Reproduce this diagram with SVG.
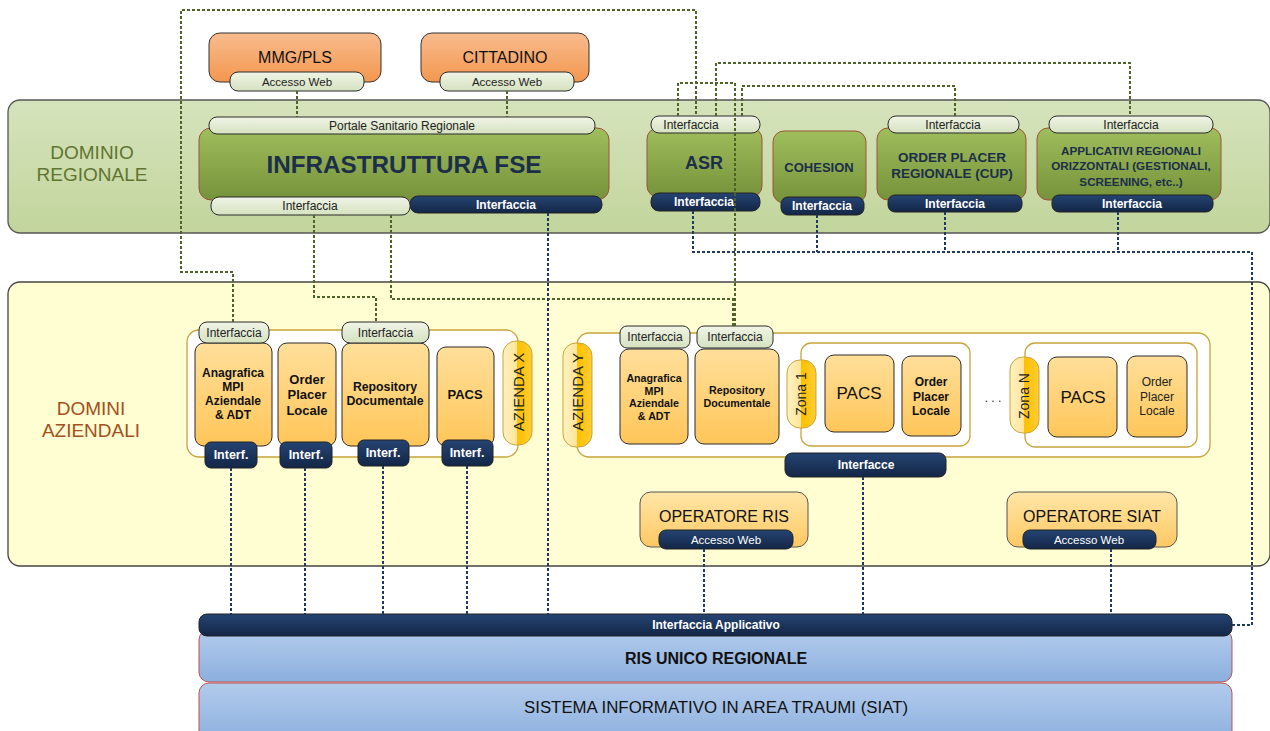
<svg xmlns="http://www.w3.org/2000/svg" width="1270" height="731" viewBox="0 0 1270 731">
<defs>
<linearGradient id="gReg" x1="0" y1="0" x2="0" y2="1"><stop offset="0" stop-color="#d6e3bc"/><stop offset="1" stop-color="#c2d59c"/></linearGradient>
<linearGradient id="gGreen" x1="0" y1="0" x2="0" y2="1"><stop offset="0" stop-color="#9fbe5c"/><stop offset="1" stop-color="#76923b"/></linearGradient>
<linearGradient id="gLight" x1="0" y1="0" x2="0" y2="1"><stop offset="0" stop-color="#f0f4e6"/><stop offset="1" stop-color="#d5e2c0"/></linearGradient>
<linearGradient id="gDark" x1="0" y1="0" x2="0" y2="1"><stop offset="0" stop-color="#254473"/><stop offset="1" stop-color="#132646"/></linearGradient>
<linearGradient id="gOrange" x1="0" y1="0" x2="0" y2="1"><stop offset="0" stop-color="#f9bc8e"/><stop offset="1" stop-color="#f3974f"/></linearGradient>
<linearGradient id="gYel" x1="0" y1="0" x2="0" y2="1"><stop offset="0" stop-color="#ffdf9a"/><stop offset="1" stop-color="#ffc659"/></linearGradient>
<linearGradient id="gOp" x1="0" y1="0" x2="0" y2="1"><stop offset="0" stop-color="#ffe6a8"/><stop offset="1" stop-color="#ffc862"/></linearGradient>
<linearGradient id="gBlue" x1="0" y1="0" x2="0" y2="1"><stop offset="0" stop-color="#b2cbec"/><stop offset="1" stop-color="#8cafde"/></linearGradient>
<linearGradient id="gAz" x1="0" y1="0" x2="1" y2="0"><stop offset="0" stop-color="#fff2c0"/><stop offset="0.5" stop-color="#ffe49a"/><stop offset="0.5" stop-color="#ffc000"/><stop offset="1" stop-color="#ffcc33"/></linearGradient>
<style>
text{font-family:"Liberation Sans",Arial,sans-serif;text-anchor:middle;dominant-baseline:central}
.light{fill:url(#gLight);stroke:#2b2b2b;stroke-width:1}
.dark{fill:url(#gDark);stroke:#222;stroke-width:1}
.green{fill:url(#gGreen);stroke:#a0503a;stroke-width:1}
.yel{fill:url(#gYel);stroke:#2b2b2b;stroke-width:1}
.az{fill:url(#gAz);stroke:#c9a43c;stroke-width:1}
.cont{fill:#ffffff;stroke:#c9a43c;stroke-width:1.3}
.t11{font-size:12px;fill:#222}
.tw{font-size:12px;fill:#fff;font-weight:bold}
.tw2{font-size:11.5px;fill:#fff}
.tg{font-weight:bold;fill:#1c2e4a}
.tb{font-weight:bold;fill:#111}
.gl{fill:none;stroke:#4f6228;stroke-width:2;stroke-dasharray:3 2}
.bl{fill:none;stroke:#1f3864;stroke-width:2;stroke-dasharray:3 2}
</style>
</defs>

<rect width="1270" height="731" fill="#ffffff"/>

<g id="dominio-regionale">
<rect x="8" y="100" width="1262" height="133" rx="12" fill="url(#gReg)" stroke="#555" stroke-width="1.3"/>
<text x="92" y="152" font-size="19" fill="#5f7530">DOMINIO</text>
<text x="92" y="174" font-size="19" fill="#5f7530">REGIONALE</text>
</g>

<g id="domini-aziendali">
<rect x="8" y="282" width="1262" height="284" rx="12" fill="#fffdd2" stroke="#444" stroke-width="1.3"/>
<text x="91" y="408" font-size="19" fill="#a5501c">DOMINI</text>
<text x="91" y="430" font-size="19" fill="#a5501c">AZIENDALI</text>
</g>

<g id="mmg-pls">
<rect x="209" y="33" width="172" height="49" rx="11" fill="url(#gOrange)" stroke="#333"/>
<text x="295" y="57" font-size="16" fill="#111">MMG/PLS</text>
<rect x="230" y="72" width="134" height="19" rx="8" class="light"/>
<text x="297" y="82" font-size="11.5" fill="#222">Accesso Web</text>
</g>

<g id="cittadino">
<rect x="421" y="33" width="168" height="49" rx="11" fill="url(#gOrange)" stroke="#333"/>
<text x="505" y="57" font-size="16" fill="#111">CITTADINO</text>
<rect x="440" y="72" width="134" height="19" rx="8" class="light"/>
<text x="507" y="82" font-size="11.5" fill="#222">Accesso Web</text>
</g>

<g id="infrastruttura-fse">
<rect x="199" y="128" width="410" height="72" rx="12" class="green"/>
<rect x="209" y="117" width="386" height="17" rx="8" class="light"/>
<text x="402" y="125.5" class="t11">Portale Sanitario Regionale</text>
<text x="404" y="164" font-size="24" class="tg" textLength="275" lengthAdjust="spacingAndGlyphs">INFRASTRUTTURA FSE</text>
<rect x="410" y="196" width="192" height="17" rx="8" class="dark"/>
<text x="506" y="204.5" class="tw">Interfaccia</text>
<rect x="211" y="197" width="199" height="18" rx="8" class="light"/>
<text x="310" y="206" class="t11">Interfaccia</text>
</g>

<g id="asr">
<rect x="647" y="128" width="115" height="69" rx="11" class="green"/>
<rect x="651" y="116" width="109" height="17" rx="8" class="light"/>
<text x="691" y="124.5" class="t11">Interfaccia</text>
<text x="704" y="163" font-size="18" class="tg">ASR</text>
<rect x="651" y="193" width="109" height="18" rx="8" class="dark"/>
<text x="704" y="202" class="tw">Interfaccia</text>
</g>

<g id="cohesion">
<rect x="773" y="131" width="93" height="72" rx="11" class="green"/>
<text x="819" y="167" font-size="13" class="tg">COHESION</text>
<rect x="781" y="197" width="83" height="18" rx="7" class="dark"/>
<text x="822" y="206" class="tw">Interfaccia</text>
</g>

<g id="order-placer-regionale">
<rect x="877" y="128" width="149" height="72" rx="11" class="green"/>
<rect x="888" y="116" width="131" height="17" rx="8" class="light"/>
<text x="953" y="124.5" class="t11">Interfaccia</text>
<text x="952" y="157" font-size="13.5" class="tg">ORDER PLACER</text>
<text x="952" y="173" font-size="13.5" class="tg">REGIONALE (CUP)</text>
<rect x="888" y="195" width="134" height="17" rx="7" class="dark"/>
<text x="955" y="203.5" class="tw">Interfaccia</text>
</g>

<g id="applicativi-regionali">
<rect x="1037" y="128" width="184" height="72" rx="11" class="green"/>
<rect x="1049" y="116" width="164" height="17" rx="8" class="light"/>
<text x="1131" y="124.5" class="t11">Interfaccia</text>
<text x="1131" y="150" font-size="11.7" class="tg">APPLICATIVI REGIONALI</text>
<text x="1131" y="165.5" font-size="11.7" class="tg">ORIZZONTALI (GESTIONALI,</text>
<text x="1131" y="181" font-size="11.7" class="tg">SCREENING, etc..)</text>
<rect x="1052" y="195" width="161" height="17" rx="7" class="dark"/>
<text x="1132" y="203.5" class="tw">Interfaccia</text>
</g>

<g id="azienda-x">
<rect x="187" y="330" width="331" height="127" rx="12" class="cont"/>
<rect x="503" y="341" width="29" height="104" rx="13" class="az"/>
<text x="518" y="392" font-size="15" fill="#222" transform="rotate(-90 518 392)">AZIENDA X</text>
</g>

<g id="anagrafica-x">
<rect x="195" y="343" width="77" height="103" rx="9" class="yel"/>
<rect x="199" y="322" width="70" height="21" rx="8" class="light"/>
<text x="234" y="332.5" class="t11">Interfaccia</text>
<text x="233" y="373" font-size="12" class="tb">Anagrafica</text>
<text x="233" y="387" font-size="12" class="tb">MPI</text>
<text x="233" y="401" font-size="12" class="tb">Aziendale</text>
<text x="233" y="415" font-size="12" class="tb">&amp; ADT</text>
<rect x="205" y="442" width="52" height="26" rx="6" class="dark"/>
<text x="231" y="455" font-size="12.5" fill="#fff" font-weight="bold">Interf.</text>
</g>

<g id="order-placer-x">
<rect x="278" y="343" width="58" height="103" rx="9" class="yel"/>
<text x="307" y="379" font-size="13" class="tb">Order</text>
<text x="307" y="394" font-size="13" class="tb">Placer</text>
<text x="307" y="410" font-size="13" class="tb">Locale</text>
<rect x="280" y="442" width="52" height="26" rx="6" class="dark"/>
<text x="306" y="455" font-size="12.5" fill="#fff" font-weight="bold">Interf.</text>
</g>

<g id="repository-x">
<rect x="342" y="343" width="87" height="103" rx="9" class="yel"/>
<rect x="342" y="322" width="87" height="21" rx="8" class="light"/>
<text x="385.5" y="332.5" class="t11">Interfaccia</text>
<text x="385" y="387" font-size="12.3" class="tb">Repository</text>
<text x="385" y="401" font-size="12.3" class="tb">Documentale</text>
<rect x="358" y="440" width="51" height="26" rx="6" class="dark"/>
<text x="383" y="453" font-size="12.5" fill="#fff" font-weight="bold">Interf.</text>
</g>

<g id="pacs-x">
<rect x="437" y="347" width="57" height="99" rx="9" class="yel"/>
<text x="465" y="394" font-size="13" class="tb">PACS</text>
<rect x="442" y="440" width="51" height="26" rx="6" class="dark"/>
<text x="467" y="453" font-size="12.5" fill="#fff" font-weight="bold">Interf.</text>
</g>

<g id="azienda-y">
<rect x="577" y="333" width="633" height="124" rx="12" class="cont"/>
<rect x="563" y="343" width="29" height="104" rx="13" class="az"/>
<text x="577" y="392" font-size="15" fill="#222" transform="rotate(-90 577 392)">AZIENDA Y</text>
<rect x="785" y="453" width="161" height="24" rx="7" class="dark"/>
<text x="866" y="465" class="tw">Interfacce</text>
</g>

<g id="anagrafica-y">
<rect x="620" y="349" width="68" height="95" rx="9" class="yel"/>
<rect x="620" y="326" width="70" height="22" rx="7" class="light"/>
<text x="655" y="337" class="t11">Interfaccia</text>
<text x="654" y="378" font-size="10.7" class="tb">Anagrafica</text>
<text x="654" y="390.5" font-size="10.7" class="tb">MPI</text>
<text x="654" y="403" font-size="10.7" class="tb">Aziendale</text>
<text x="654" y="415.5" font-size="10.7" class="tb">&amp; ADT</text>
</g>

<g id="repository-y">
<rect x="695" y="349" width="84" height="95" rx="9" class="yel"/>
<rect x="697" y="326" width="76" height="22" rx="7" class="light"/>
<text x="735" y="337" class="t11">Interfaccia</text>
<text x="737" y="390" font-size="10.7" class="tb">Repository</text>
<text x="737" y="403" font-size="10.7" class="tb">Documentale</text>
</g>

<g id="zona-1">
<rect x="801" y="343" width="169" height="103" rx="10" class="cont"/>
<rect x="787" y="360" width="29" height="68" rx="13" class="az"/>
<text x="801" y="394" font-size="14" fill="#222" transform="rotate(-90 801 394)">Zona 1</text>
<rect x="825" y="355" width="69" height="77" rx="9" class="yel"/>
<text x="859" y="393" font-size="17" fill="#111">PACS</text>
<rect x="902" y="356" width="59" height="80" rx="9" class="yel"/>
<text x="931" y="382" font-size="12" class="tb">Order</text>
<text x="931" y="397" font-size="12" class="tb">Placer</text>
<text x="931" y="411" font-size="12" class="tb">Locale</text>
</g>

<text x="993" y="398" font-size="12" fill="#222">. . .</text>

<g id="zona-n">
<rect x="1025" y="343" width="172" height="104" rx="10" class="cont"/>
<rect x="1010" y="357" width="29" height="76" rx="13" class="az"/>
<text x="1024" y="396" font-size="14" fill="#222" transform="rotate(-90 1024 396)">Zona N</text>
<rect x="1048" y="357" width="69" height="80" rx="9" class="yel"/>
<text x="1083" y="397" font-size="17" fill="#111">PACS</text>
<rect x="1127" y="356" width="60" height="81" rx="9" class="yel"/>
<text x="1157" y="382" font-size="12" fill="#222">Order</text>
<text x="1157" y="397" font-size="12" fill="#222">Placer</text>
<text x="1157" y="411" font-size="12" fill="#222">Locale</text>
</g>

<g id="operatore-ris">
<rect x="640" y="492" width="168" height="55" rx="11" fill="url(#gOp)" stroke="#555"/>
<text x="724" y="516" font-size="16" fill="#111">OPERATORE RIS</text>
<rect x="659" y="530" width="134" height="19" rx="7" class="dark"/>
<text x="726" y="539.5" class="tw2">Accesso Web</text>
</g>

<g id="operatore-siat">
<rect x="1007" y="492" width="170" height="55" rx="11" fill="url(#gOp)" stroke="#555"/>
<text x="1092" y="516" font-size="16" fill="#111">OPERATORE SIAT</text>
<rect x="1023" y="530" width="133" height="19" rx="7" class="dark"/>
<text x="1089" y="539.5" class="tw2">Accesso Web</text>
</g>

<g id="siat">
<rect x="199" y="683" width="1033" height="60" rx="10" fill="url(#gBlue)" stroke="#c0504d" stroke-width="1"/>
<text x="716" y="707" font-size="16" fill="#111" textLength="384" lengthAdjust="spacingAndGlyphs">SISTEMA INFORMATIVO IN AREA TRAUMI (SIAT)</text>
</g>

<g id="ris-unico-regionale">
<rect x="199" y="630" width="1033" height="52" rx="10" fill="url(#gBlue)" stroke="#c0504d" stroke-width="1"/>
<text x="716" y="658" font-size="16" class="tb">RIS UNICO REGIONALE</text>
</g>

<g id="interfaccia-applicativo">
<rect x="199" y="614" width="1033" height="22" rx="8" class="dark"/>
<text x="716" y="625" class="tw">Interfaccia Applicativo</text>
</g>

<g id="connectors">
<path class="gl" d="M233,322 V272 H181 V10 H696 V116"/>
<path class="gl" d="M678,116 V83 H735 V326"/>
<path class="gl" d="M716,116 V63 H1130 V116"/>
<path class="gl" d="M742,116 V86 H955 V116"/>
<path class="gl" d="M297,91 V117"/>
<path class="gl" d="M507,91 V117"/>
<path class="gl" d="M314,215 V297 H376 V322"/>
<path class="gl" d="M391,215 V299 H733 V326"/>
<path class="bl" d="M693,211 V252 H1252 V625 H1232"/>
<path class="bl" d="M817,215 V252"/>
<path class="bl" d="M945,212 V252"/>
<path class="bl" d="M1118,212 V252"/>
<path class="bl" d="M548,213 V614"/>
<path class="bl" d="M231,468 V614"/>
<path class="bl" d="M305,468 V614"/>
<path class="bl" d="M383,466 V614"/>
<path class="bl" d="M467,466 V614"/>
<path class="bl" d="M863,477 V614"/>
<path class="bl" d="M704,549 V614"/>
<path class="bl" d="M1111,549 V614"/>
</g>
</svg>
